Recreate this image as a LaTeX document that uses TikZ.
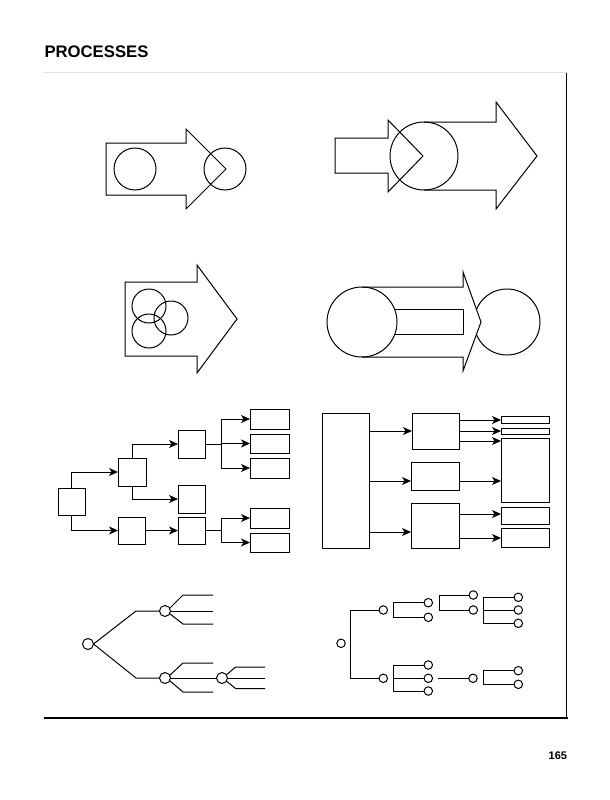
\documentclass[tikz,border=0pt]{standalone}
\usepackage{fontspec}
\setmainfont{Liberation Sans}
\usetikzlibrary{arrows.meta}
\begin{document}
\begin{tikzpicture}[x=1pt,y=-1pt,line width=1pt,
  box/.style={draw,inner sep=0pt,outer sep=0pt},
  arr/.style={-{Stealth[length=9pt,width=8pt,inset=2.5pt]}},
  tcA/.style={draw,circle,inner sep=0pt,outer sep=0pt,minimum size=11pt},
  sc/.style={draw,circle,inner sep=0pt,outer sep=0pt,minimum size=8.5pt}]
\useasboundingbox (0,0) rectangle (610,800);
% title, frame, page number
\node[anchor=base west,inner sep=0pt,font=\bfseries\fontsize{16.7}{18}\selectfont] (title) at (44,58) {PROCESSES};
\node[anchor=base east,inner sep=0pt,font=\bfseries\fontsize{11}{12}\selectfont] (pg) at (567.5,759) {165};
\draw[black!12,line width=0.6pt] (44,72.5) -- (566.7,72.5);
\draw (566.7,72.5) -- (566.7,718);
\draw[line width=1.6pt] (44,718) -- (567.5,718);

% ---- top-left arrow
\draw (186,143) -- (106,143) -- (106,195) -- (186,195) -- (186,209) -- (226,169) -- (186,129) -- cycle;
\draw (135,169) circle[radius=21pt];
\draw (225,169) circle[radius=21pt];

% ---- top-right arrows
\draw (388,138) -- (335,138) -- (335,173) -- (388,173) -- (388,192) -- (423,156) -- (388,120) -- cycle;
\draw (424,156) circle[radius=34pt];
\draw (424,122) -- (496,122) -- (496,102) -- (537,156) -- (496,209) -- (496,190) -- (424,190);

% ---- middle-left arrow
\draw (197,282) -- (125,282) -- (125,356) -- (197,356) -- (197,373) -- (237,319) -- (197,265) -- cycle;
\draw (149,306) circle[radius=17pt];
\draw (171,318) circle[radius=17pt];
\draw (149,331) circle[radius=17pt];

% ---- middle-right
\draw (362,322) circle[radius=35pt];
\draw (507,322) circle[radius=33pt];
\fill[white] (463,272) -- (481,322) -- (463,371) -- cycle;
\draw (362,287) -- (463,287) -- (463,272) -- (481,322) -- (463,371) -- (463,357) -- (362,357);
\draw (394.5,309) -- (463,309) -- (463,334) -- (394.9,334);

% ---- left flowchart
\node[box,minimum width=27pt,minimum height=27.5pt] (A) at (71.5,501.75) {};
\node[box,minimum width=28pt,minimum height=28pt] (B) at (132,472) {};
\node[box,minimum width=27pt,minimum height=27pt] (C) at (131.5,530.5) {};
\node[box,minimum width=27pt,minimum height=28pt] (D) at (191.5,444) {};
\node[box,minimum width=27pt,minimum height=28pt] (E) at (191.5,499) {};
\node[box,minimum width=27pt,minimum height=27pt] (F) at (191.5,530.5) {};
\node[box,minimum width=39pt,minimum height=20pt] (R1) at (269.5,419) {};
\node[box,minimum width=39pt,minimum height=19pt] (R2) at (269.5,443.5) {};
\node[box,minimum width=39pt,minimum height=20pt] (R3) at (269.5,468) {};
\node[box,minimum width=39pt,minimum height=20pt] (R4) at (269.5,518) {};
\node[box,minimum width=39pt,minimum height=19pt] (R5) at (269.5,542.5) {};
\coordinate (J1) at (221,444);
\coordinate (J2) at (221,530.5);
\draw[arr] (A.north) |- (B.west);
\draw[arr] (A.south) |- (C.west);
\draw[arr] (B.north) |- (D.west);
\draw[arr] (B.south) |- (E.west);
\draw[arr] (C.east) -- (F.west);
\draw (D.east) -- (J1);
\draw (J1 |- R1.west) -- (J1 |- R3.west);
\draw[arr] (J1 |- R1.west) -- (R1.west);
\draw[arr] (J1 |- R2.west) -- (R2.west);
\draw[arr] (J1 |- R3.west) -- (R3.west);
\draw (F.east) -- (J2);
\draw (J2 |- R4.west) -- (J2 |- R5.west);
\draw[arr] (J2 |- R4.west) -- (R4.west);
\draw[arr] (J2 |- R5.west) -- (R5.west);

% ---- right flowchart
\node[box,minimum width=47pt,minimum height=135pt] (BB) at (345.5,480.5) {};
\node[box,minimum width=47pt,minimum height=36pt] (M1) at (435.5,431) {};
\node[box,minimum width=48pt,minimum height=28pt] (M2) at (435,476) {};
\node[box,minimum width=48pt,minimum height=45pt] (M3) at (435,525.5) {};
\node[box,minimum width=48pt,minimum height=7pt] (S1) at (525,419.5) {};
\node[box,minimum width=48pt,minimum height=6pt] (S2) at (525,431) {};
\node[box,minimum width=48pt,minimum height=64pt] (S3) at (525,470) {};
\node[box,minimum width=48pt,minimum height=17pt] (S4) at (525,515.5) {};
\node[box,minimum width=48pt,minimum height=19pt] (S5) at (525,537.5) {};
\coordinate (h1) at (0,431);
\coordinate (h2) at (0,481);
\coordinate (h3) at (0,532);
\coordinate (s1) at (0,420);
\coordinate (s3) at (0,441);
\coordinate (s5) at (0,514);
\coordinate (s6) at (0,538);
\draw[arr] (BB.east |- h1) -- (M1.west |- h1);
\draw[arr] (BB.east |- h2) -- (M2.west |- h2);
\draw[arr] (BB.east |- h3) -- (M3.west |- h3);
\draw[arr] (M1.east |- s1) -- (S1.west |- s1);
\draw[arr] (M1.east |- h1) -- (S2.west |- h1);
\draw[arr] (M1.east |- s3) -- (S3.west |- s3);
\draw[arr] (M2.east |- h2) -- (S3.west |- h2);
\draw[arr] (M3.east |- s5) -- (S4.west |- s5);
\draw[arr] (M3.east |- s6) -- (S5.west |- s6);

% ---- bottom-left tree
\node[tcA] (r0) at (88,644) {};
\node[tcA] (u1) at (165,611) {};
\node[tcA] (l1) at (165,678) {};
\node[tcA] (l2) at (222,678) {};
\coordinate (k1) at (136,611);
\coordinate (k2) at (136,678);
\draw (r0.east) -- (k1) -- (u1.west);
\draw (r0.east) -- (k2) -- (l1.west);
\coordinate (ua1) at (183,595); \coordinate (ue1) at (213,595);
\coordinate (ue2) at (213,611);
\coordinate (ua3) at (183,624); \coordinate (ue3) at (213,624);
\draw (u1.30) -- (ua1) -- (ue1);
\draw (u1.east) -- (ue2);
\draw (u1.-30) -- (ua3) -- (ue3);
\coordinate (la1) at (183,663); \coordinate (le1) at (213,663);
\coordinate (la3) at (183,692); \coordinate (le3) at (213,692);
\draw (l1.30) -- (la1) -- (le1);
\draw (l1.east) -- (l2.west);
\draw (l1.-30) -- (la3) -- (le3);
\coordinate (ma1) at (235.5,667); \coordinate (me1) at (265,667);
\coordinate (me2) at (265,678);
\coordinate (ma3) at (235.5,688.5); \coordinate (me3) at (265,688.5);
\draw (l2.35) -- (ma1) -- (me1);
\draw (l2.east) -- (me2);
\draw (l2.-35) -- (ma3) -- (me3);

% ---- bottom-right tree
\node[sc] (q0) at (341,643.3) {};
\node[sc] (qu) at (383.3,610) {};
\node[sc] (ql) at (383.3,678.3) {};
\coordinate (v1) at (350.7,610); \coordinate (v2) at (350.7,678.3);
\draw (qu.west) -- (v1) -- (v2) -- (ql.west);
\node[sc] (qa) at (428.3,602.7) {};
\node[sc] (qb) at (428.3,617.3) {};
\coordinate (b1t) at (393.3,602.7); \coordinate (b1b) at (393.3,617.3);
\draw (qa.west) -- (b1t) -- (b1b) -- (qb.west);
\node[sc] (qc) at (473.3,595) {};
\node[sc] (qd) at (473.3,610) {};
\coordinate (b2t) at (439.3,595); \coordinate (b2b) at (439.3,610);
\draw (qc.west) -- (b2t) -- (b2b) -- (qd.west);
\node[sc] (qe) at (518.3,597.3) {};
\node[sc] (qf) at (518.3,610) {};
\node[sc] (qg) at (518.3,623.3) {};
\coordinate (b3t) at (483.3,597.3); \coordinate (b3m) at (483.3,610); \coordinate (b3b) at (483.3,623.3);
\draw (qe.west) -- (b3t) -- (b3b) -- (qg.west);
\draw (b3m) -- (qf.west);
\node[sc] (qh) at (428.3,665) {};
\node[sc] (qi) at (428.3,678.3) {};
\node[sc] (qj) at (428.3,691) {};
\coordinate (b4t) at (393.3,665); \coordinate (b4m) at (393.3,678.3); \coordinate (b4b) at (393.3,691);
\draw (qh.west) -- (b4t) -- (b4b) -- (qj.west);
\draw (b4m) -- (qi.west);
\node[sc] (qk) at (473,678.3) {};
\coordinate (w1) at (438.3,678.3);
\draw (w1) -- (qk.west);
\node[sc] (qm) at (518.3,670.7) {};
\node[sc] (qn) at (518.3,684.3) {};
\coordinate (b5t) at (483.3,670.7); \coordinate (b5b) at (483.3,684.3);
\draw (qm.west) -- (b5t) -- (b5b) -- (qn.west);
\end{tikzpicture}
\end{document}
